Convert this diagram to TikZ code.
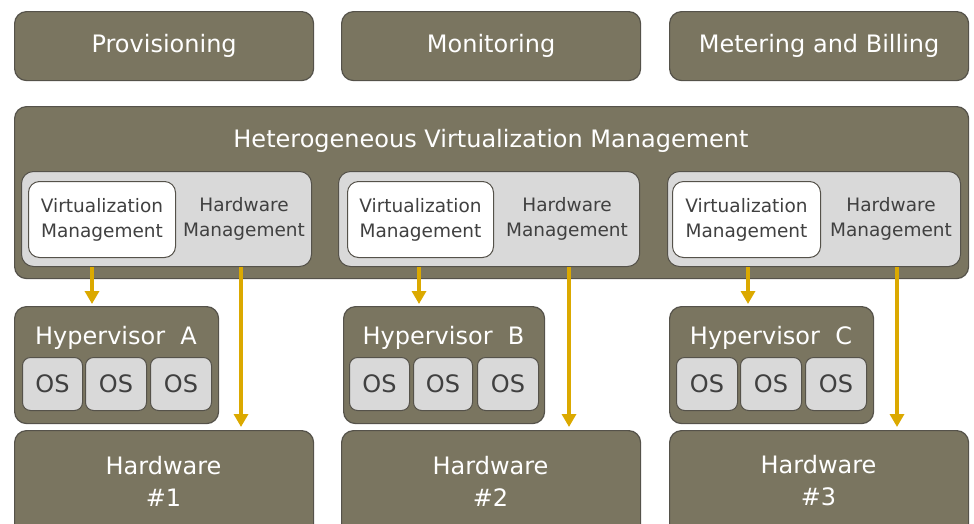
\documentclass[tikz,border=0pt]{standalone}
\usepackage{fontspec}
\setmainfont{DejaVu Sans}
\usetikzlibrary{arrows.meta}
\definecolor{olivebox}{HTML}{7A7560}
\definecolor{edgegray}{HTML}{55524A}
\definecolor{lightfill}{HTML}{D9D9D9}
\definecolor{goldarrow}{HTML}{DBA900}
\definecolor{darktext}{HTML}{404040}
\newcommand\rbox[7]{\node[#1, anchor=north west, minimum width={(#5-#3)*1pt}, minimum height={(#6-#4)*1pt}, inner sep=0pt] (#2) at (#3,#4) {#7};}
\begin{document}
\begin{tikzpicture}[x=1pt,y=-1pt,
 darkbox/.style={draw=edgegray, line width=1.2pt, fill=olivebox, rounded corners=12pt},
 lightbox/.style={draw=edgegray, line width=1pt, fill=lightfill, rounded corners=12pt},
 whitebox/.style={draw=edgegray, line width=1pt, fill=white, rounded corners=11pt},
 osbox/.style={draw=edgegray, line width=1pt, fill=lightfill, rounded corners=8pt},
 wlabel/.style={text=white, font=\fontsize{24}{30}\selectfont, inner sep=0pt},
 glabel/.style={text=darktext, font=\fontsize{18.5}{25}\selectfont, align=center, inner sep=0pt},
 oslabel/.style={text=darktext, font=\fontsize{24}{30}\selectfont},
 hwlabel/.style={text=white, font=\fontsize{24}{32}\selectfont, align=center, inner sep=0pt},
 flow/.style={draw=goldarrow, line width=4pt, -{Triangle[width=14pt,length=13pt]}}]
\clip (0,0) rectangle (974,523);
% top row
\rbox{darkbox,wlabel}{prov}{14}{11}{313}{80}{Provisioning}
\rbox{darkbox,wlabel}{moni}{341}{11}{640}{80}{Monitoring}
\rbox{darkbox,wlabel}{mete}{669}{11}{968}{80}{Metering and Billing}
% heterogeneous management
\rbox{darkbox}{hvm}{14}{106}{968}{278}{}
\node[wlabel] (hvmtitle) at (491,141) {Heterogeneous Virtualization Management};
\foreach \L/\n/\lx/\lr/\wx/\wr/\hx/\hr/\oa/\ob/\oc/\od/\oe/\of/\gx/\gr/\ax/\bx in {
  A/1/21/311/28/175/14/218/22/82/85/146/150/211/14/313/92/241,
  B/2/338/639/347/493/343/544/349/409/413/472/477/538/341/640/419/569,
  C/3/667/960/672/820/669/873/676/737/740/801/805/866/669/968/748/897}{
  \rbox{lightbox}{lm\L}{\lx}{171}{\lr}{266}{}
  \rbox{whitebox,glabel}{vm\L}{\wx}{181}{\wr}{257}{Virtualization\\Management}
  \node[glabel] (hm\L) at ({(\wr+\lr)/2+1},219) {Hardware\\Management};
  \rbox{darkbox}{hyp\L}{\hx}{306}{\hr}{423}{}
  \node[wlabel] (hypt\L) at ({(\hx+\hr)/2},338) {Hypervisor\ \ \L};
  \rbox{osbox,oslabel}{osa\L}{\oa}{357}{\ob}{410}{OS}
  \rbox{osbox,oslabel}{osb\L}{\oc}{357}{\od}{410}{OS}
  \rbox{osbox,oslabel}{osc\L}{\oe}{357}{\of}{410}{OS}
  \rbox{darkbox}{hw\L}{\gx}{430}{\gr}{545}{}
  \node[hwlabel] (hwt\L) at ({(\gx+\gr)/2},481) {Hardware\\\#\n};
  \coordinate (vx\L) at (\ax,0);
  \coordinate (hx\L) at (\bx,0);
  \draw[flow, shorten >=2pt] (lm\L.south -| vx\L) -- (hyp\L.north -| vx\L);
  \draw[flow, shorten >=3pt] (lm\L.south -| hx\L) -- (hw\L.north -| hx\L);
}
\end{tikzpicture}
\end{document}
